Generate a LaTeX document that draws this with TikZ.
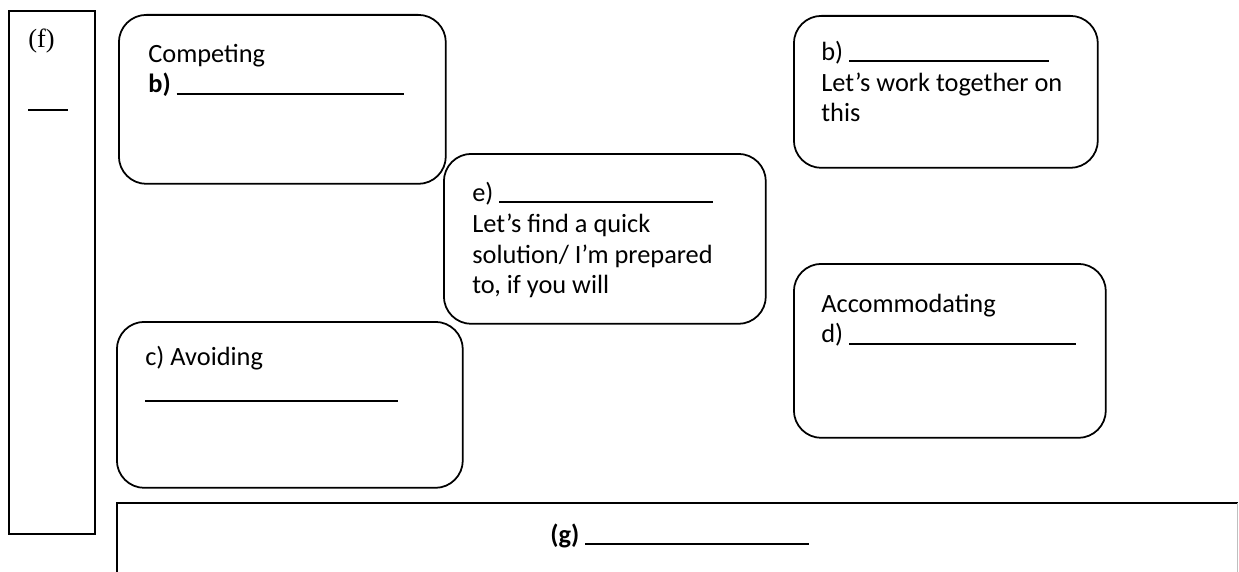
\documentclass[tikz,border=0pt]{standalone}
\usepackage{fontspec}
\setmainfont{Carlito}
\newfontfamily\timesfont{Liberation Serif}
\usetikzlibrary{positioning}

\newcommand{\blankline}[1]{\rule[-1pt]{#1}{1.1pt}}

\tikzset{
  roundbox/.style={draw, line width=1pt, rounded corners=0.55cm, anchor=north west, inner sep=0pt},
  boxtext/.style={anchor=base west, align=left, inner sep=0pt, font={\fontsize{15}{17.6}\selectfont}}
}

\begin{document}
\begin{tikzpicture}[x=0.02cm, y=-0.02cm]

\useasboundingbox (0,0) rectangle (1239,571);

% left column (f)
\node [draw, line width=1pt, anchor=north west, inner sep=0pt,
minimum width=1.72cm, minimum height=10.46cm] (fcol) at (8,10) {};
\node [boxtext, font={\timesfont\fontsize{15}{17.6}\selectfont}] (ftext)
 at ([xshift=0.4cm, yshift=-1.98cm]fcol.north west) {(f)\\[17.6pt]\blankline{0.8cm}};

% five styles
\node [roundbox, minimum width=6.54cm, minimum height=3.38cm] (competing) at (118,14) {};
\node [boxtext] (competing-text) at ([xshift=0.6cm, yshift=-1.58cm]competing.north west)
 {Competing\\\textbf{b)} \blankline{4.54cm}};

\node [roundbox, minimum width=6.44cm, minimum height=3.4cm] (compromising) at (443,153) {};
\node [boxtext] (compromising-text) at ([xshift=0.58cm, yshift=-2.82cm]compromising.north west)
 {e) \blankline{4.28cm}\\Let’s find a quick\\solution/ I’m prepared\\to, if you will};

\node [roundbox, minimum width=6.08cm, minimum height=3.04cm] (collaborating) at (793,15) {};
\node [boxtext] (collaborating-text) at ([xshift=0.56cm, yshift=-2.14cm]collaborating.north west)
 {b) \blankline{4cm}\\Let’s work together on\\this};

\node [roundbox, minimum width=6.24cm, minimum height=3.48cm] (accommodating) at (793,263) {};
\node [boxtext] (accommodating-text) at ([xshift=0.56cm, yshift=-1.6cm]accommodating.north west)
 {Accommodating\\d) \blankline{4.54cm}};

\node [roundbox, minimum width=6.92cm, minimum height=3.32cm] (avoiding) at (116,321) {};
\node [boxtext] (avoiding-text) at ([xshift=0.58cm, yshift=-1.58cm]avoiding.north west)
 {c) Avoiding\\[2.3pt]\blankline{5.06cm}};

% bottom strip (g)
\node [anchor=north west, inner sep=0pt, minimum width=22.4cm, minimum height=2cm] (gbox) at (117,503) {};
\draw [line width=1pt] (gbox.south west) -- (gbox.north west) -- (gbox.north east);
\draw [line width=0.6pt, black!25] (gbox.north east) -- (gbox.south east);
\node [boxtext, font={\bfseries\fontsize{15}{17.6}\selectfont}] (gtext)
 at ([xshift=8.66cm, yshift=-0.8cm]gbox.north west) {(g) \blankline{4.48cm}};

\end{tikzpicture}
\end{document}
